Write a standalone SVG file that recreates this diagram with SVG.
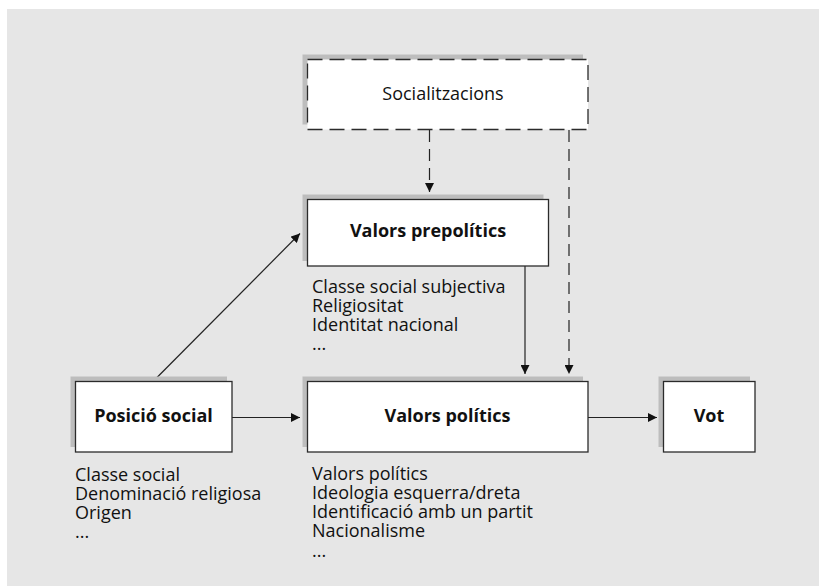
<svg xmlns="http://www.w3.org/2000/svg" width="821" height="587" viewBox="0 0 821 587">
<defs>
<style>
.bg{fill:#e6e6e6}
.sh{fill:#bdbdbd}
.box{fill:#fff;stroke:#2b2b2b;stroke-width:1.3}
.dbox{fill:#fff;stroke:#2b2b2b;stroke-width:1.3;stroke-dasharray:15 7}
.t{font-family:"Open Sans","Liberation Sans",sans-serif;font-size:18px;fill:#111}
.tb{font-family:"Open Sans","Liberation Sans",sans-serif;font-size:18px;font-weight:bold;fill:#111;text-anchor:middle}
.tr{font-family:"Open Sans","Liberation Sans",sans-serif;font-size:18px;fill:#111;text-anchor:middle}
.c{stroke:#222;stroke-width:1.2;fill:none}
.d{stroke-dasharray:12 7}
</style>
<marker id="ah" viewBox="0 0 10 10" refX="10" refY="5" markerWidth="9" markerHeight="9" markerUnits="userSpaceOnUse" orient="auto">
<path d="M0,0 L10,5 L0,10 z" fill="#111"/>
</marker>
</defs>
<rect class="bg" x="7" y="9" width="812" height="577"/>
<g id="connectors">
<line class="c" x1="153.5" y1="381" x2="300" y2="233.5" marker-end="url(#ah)"/>
<line class="c d" x1="429.5" y1="130" x2="429.5" y2="192" marker-end="url(#ah)"/>
<line class="c d" x1="569" y1="130" x2="569" y2="374" marker-end="url(#ah)"/>
<line class="c" x1="525" y1="266" x2="525" y2="374" marker-end="url(#ah)"/>
<line class="c" x1="232" y1="417.5" x2="300" y2="417.5" marker-end="url(#ah)"/>
<line class="c" x1="588" y1="417.5" x2="657" y2="417.5" marker-end="url(#ah)"/>
</g>
<g id="socialitzacions">
<rect class="sh" x="302.5" y="54.5" width="280.5" height="70"/>
<rect class="dbox" x="307.5" y="59.5" width="280.5" height="70"/>
<text class="tr" x="443" y="99.5">Socialitzacions</text>
</g>
<g id="valors-prepolitics">
<rect class="sh" x="302.5" y="194.5" width="241" height="66.5"/>
<rect class="box" x="307.5" y="199.5" width="241" height="66.5"/>
<text class="tb" x="428" y="236.5">Valors prepolítics</text>
<text class="t" x="312" y="292.5">Classe social subjectiva</text>
<text class="t" x="312" y="311.8">Religiositat</text>
<text class="t" x="312" y="331">Identitat nacional</text>
<text class="t" x="312" y="350">...</text>
</g>
<g id="posicio-social">
<rect class="sh" x="70.5" y="376.5" width="156.5" height="70.5"/>
<rect class="box" x="75.5" y="381.5" width="156.5" height="70.5"/>
<text class="tb" x="153.5" y="422">Posició social</text>
<text class="t" x="75" y="481">Classe social</text>
<text class="t" x="75" y="499.5">Denominació religiosa</text>
<text class="t" x="75" y="518.5">Origen</text>
<text class="t" x="75" y="537.5">...</text>
</g>
<g id="valors-politics">
<rect class="sh" x="302.5" y="376.5" width="280.5" height="70.5"/>
<rect class="box" x="307.5" y="381.5" width="280.5" height="70.5"/>
<text class="tb" x="447.5" y="422">Valors polítics</text>
<text class="t" x="312" y="479.5">Valors polítics</text>
<text class="t" x="312" y="498.5">Ideologia esquerra/dreta</text>
<text class="t" x="312" y="518.3">Identificació amb un partit</text>
<text class="t" x="312" y="537.3">Nacionalisme</text>
<text class="t" x="312" y="556.5">...</text>
</g>
<g id="vot">
<rect class="sh" x="658.5" y="376.5" width="91.5" height="70.5"/>
<rect class="box" x="663.5" y="381.5" width="91.5" height="70.5"/>
<text class="tb" x="709" y="422">Vot</text>
</g>
</svg>
